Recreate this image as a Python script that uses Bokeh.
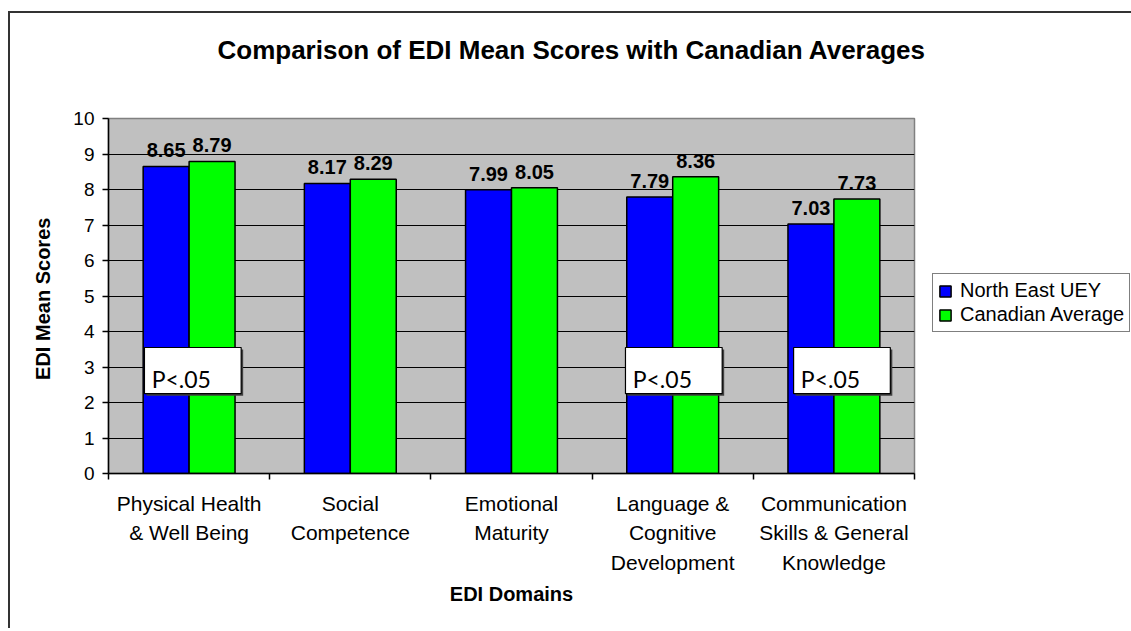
from bokeh.plotting import figure
from bokeh.models import FixedTicker, Legend, LegendItem, ColumnDataSource, Range1d, Title
from bokeh.core.properties import value
from bokeh.embed import file_html
from bokeh.resources import INLINE

# ---------------- data ----------------
categories = [
    "Physical Health\n& Well Being",
    "Social\nCompetence",
    "Emotional\nMaturity",
    "Language &\nCognitive\nDevelopment",
    "Communication\nSkills & General\nKnowledge",
]
north_east = [8.65, 8.17, 7.99, 7.79, 7.03]
canadian = [8.79, 8.29, 8.05, 8.36, 7.73]
series_names = ["North East UEY", "Canadian Average"]
y_ticks = list(range(0, 11))
significant = [0, 3, 4]          # domains marked with a P<.05 note
sig_text = "P<.05"
title_text = "Comparison of EDI Mean Scores with Canadian Averages"
x_title = "EDI Domains"
y_title = "EDI Mean  Scores"

# ---------------- styling ----------------
FONT = "Liberation Sans"
BLUE = "#0000FF"
GREEN = "#00FF00"

n = len(categories)
centers = [i + 0.5 for i in range(n)]
bw = 0.285
src = ColumnDataSource(dict(
    xb=[c - bw / 2 for c in centers],
    xg=[c + bw / 2 for c in centers],
    ne=north_east,
    ca=canadian,
    ne_lbl=[f"{v:.2f}" for v in north_east],
    ca_lbl=[f"{v:.2f}" for v in canadian],
))

p = figure(frame_width=806, frame_height=355,
           min_border_left=98, min_border_right=217,
           min_border_top=105, min_border_bottom=155,
           x_range=Range1d(0, n), y_range=Range1d(0, 10),
           output_backend="svg", toolbar_location=None,
           background_fill_color="#C0C0C0", border_fill_color="white",
           outline_line_color="#808080", outline_line_width=1.5)
p.styles = {"margin-left": "8px", "margin-top": "11px",
            "border-left": "2px solid #333333", "border-top": "2px solid #333333"}

# spacer between the plot area and the title
p.add_layout(Title(text=" ", text_font_size="1px", standoff=51), "above")

# title
p.title.text = title_text
p.title.align = "left"
p.title.offset = 109
p.title.text_font = FONT
p.title.text_font_size = "26px"
p.title.text_font_style = "bold"
p.title.text_color = "black"
p.title.standoff = 0

# grid
p.xgrid.grid_line_color = None
p.ygrid.ticker = FixedTicker(ticks=y_ticks[1:-1])
p.ygrid.grid_line_color = "black"
p.ygrid.grid_line_width = 1

# bars
r1 = p.vbar(x="xb", top="ne", bottom=0, width=bw, source=src,
            fill_color=BLUE, line_color="black", line_width=1.5)
r2 = p.vbar(x="xg", top="ca", bottom=0, width=bw, source=src,
            fill_color=GREEN, line_color="black", line_width=1.5)

# value labels
for xcol, ycol, tcol in (("xb", "ne", "ne_lbl"), ("xg", "ca", "ca_lbl")):
    p.text(x=xcol, y=ycol, text=tcol, source=src, y_offset=-16,
           text_align="center", text_baseline="alphabetic",
           text_font=value(FONT), text_font_style="bold",
           text_font_size="20px", text_color="black")

# P<.05 notes
box_start = {0: 0.223, 3: 0.207, 4: 0.25}
box_w = 0.6
b_bot, b_top = 2.25, 3.55
lefts = [i + box_start[i] for i in significant]
rights = [l + box_w for l in lefts]
dx, dy = 2 / 161.2, 2 / 35.5
p.quad(left=[l + dx for l in lefts], right=[r + dx for r in rights],
       bottom=[b_bot - dy] * len(lefts), top=[b_top - dy] * len(lefts),
       fill_color="#404040", line_color=None)
p.quad(left=lefts, right=rights, bottom=[b_bot] * len(lefts), top=[b_top] * len(lefts),
       fill_color="white", line_color="black", line_width=1.2)
p.text(x=[l + 0.045 for l in lefts], y=[2.648] * len(lefts), text=[sig_text] * len(lefts),
       text_baseline="alphabetic", text_align="left",
       text_font=value("Lato"), text_font_size="23px", text_color="black")

# y axis
ya = p.yaxis[0]
ya.ticker = FixedTicker(ticks=y_ticks)
ya.major_tick_out = 6
ya.major_tick_in = 0
ya.minor_tick_line_color = None
ya.axis_line_color = "black"
ya.axis_line_width = 1.5
ya.major_tick_line_width = 1.5
ya.major_label_standoff = 8
ya.major_label_text_font = FONT
ya.major_label_text_font_size = "19px"
ya.major_label_text_color = "black"
ya.axis_label = y_title
ya.axis_label_text_font = FONT
ya.axis_label_text_font_size = "20px"
ya.axis_label_text_font_style = "bold"
ya.axis_label_text_color = "black"
ya.axis_label_standoff = 16

# x axis
xa = p.xaxis[0]
xa.ticker = FixedTicker(ticks=centers, minor_ticks=list(range(n + 1)))
xa.major_label_overrides = {c: lab for c, lab in zip(centers, categories)}
xa.major_tick_line_color = None
xa.major_tick_out = 0
xa.major_tick_in = 0
xa.minor_tick_out = 6
xa.minor_tick_in = 0
xa.minor_tick_line_color = "black"
xa.minor_tick_line_width = 1.5
xa.axis_line_color = "black"
xa.axis_line_width = 1.5
xa.major_label_standoff = 12
xa.major_label_text_font = FONT
xa.major_label_text_font_size = "21px"
xa.major_label_text_color = "black"
xa.major_label_text_line_height = 1.3
xa.axis_label = x_title
xa.axis_label_text_font = FONT
xa.axis_label_text_font_size = "20px"
xa.axis_label_text_font_style = "bold"
xa.axis_label_text_color = "black"
xa.axis_label_standoff = 6

# legend (right-hand panel)
legend = Legend(items=[LegendItem(label=series_names[0], renderers=[r1]),
                       LegendItem(label=series_names[1], renderers=[r2])],
                location=(18, 141),
                border_line_color="black", border_line_width=1,
                background_fill_color="white", background_fill_alpha=1,
                label_text_font=FONT, label_text_font_size="20px",
                label_text_color="black",
                glyph_width=14, glyph_height=14, label_standoff=8,
                label_height=20, padding=5, spacing=1, margin=0)
p.add_layout(legend, "right")

open("out.html", "w").write(file_html(p, INLINE))
